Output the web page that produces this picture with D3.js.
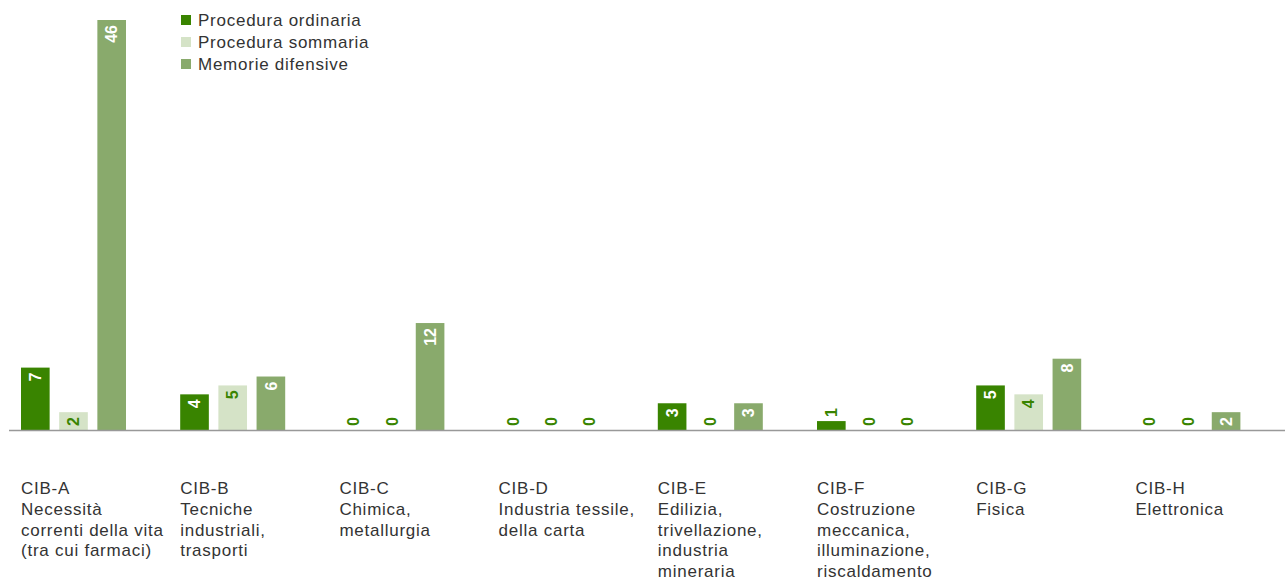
<!DOCTYPE html>
<html>
<head>
<meta charset="utf-8">
<script src="https://cdn.jsdelivr.net/npm/d3@7"></script>
<style>
  body { margin: 0; background: #fff; }
  text { font-family: "Liberation Sans", Arial, sans-serif; }
</style>
</head>
<body>
<div id="chart"></div>
<script>
const categories = ['CIB-A', 'CIB-B', 'CIB-C', 'CIB-D', 'CIB-E', 'CIB-F', 'CIB-G', 'CIB-H'];
const categoryLabels = [
  ['CIB-A', 'Necessità', 'correnti della vita', '(tra cui farmaci)'],
  ['CIB-B', 'Tecniche', 'industriali,', 'trasporti'],
  ['CIB-C', 'Chimica,', 'metallurgia'],
  ['CIB-D', 'Industria tessile,', 'della carta'],
  ['CIB-E', 'Edilizia,', 'trivellazione,', 'industria', 'mineraria'],
  ['CIB-F', 'Costruzione', 'meccanica,', 'illuminazione,', 'riscaldamento'],
  ['CIB-G', 'Fisica'],
  ['CIB-H', 'Elettronica']
];
const seriesNames = ['Procedura ordinaria', 'Procedura sommaria', 'Memorie difensive'];
const ordinaria = [7, 4, 0, 0, 3, 1, 5, 0];
const sommaria = [2, 5, 0, 0, 0, 0, 4, 0];
const memorie = [46, 6, 12, 0, 3, 0, 8, 2];

const colors = ['#398400', '#d5e3c7', '#89aa6c'];
const labelColors = ['#fff', '#398400', '#fff'];

const width = 1285, height = 581;
const baseY = 430;

const svg = d3.select('#chart').append('svg')
    .attr('width', width)
    .attr('height', height);

const x = d3.scaleBand()
    .domain(categories)
    .range([21, 21 + 159.2 * 8])
    .paddingInner(0)
    .paddingOuter(0);

const x1 = d3.scaleBand()
    .domain(seriesNames)
    .range([0, 105])
    .paddingInner(0.25);

const y = d3.scaleLinear()
    .domain([0, 46])
    .range([baseY, 20]);

const data = [];
categories.forEach((c, i) => {
  [ordinaria, sommaria, memorie].forEach((arr, s) => {
    const barH = baseY - y(arr[i]);
    data.push({ cat: c, series: seriesNames[s], s: s, value: arr[i], inside: barH >= 15 });
  });
});

// bars
svg.append('g').selectAll('rect')
    .data(data.filter(d => d.value > 0))
  .join('rect')
    .attr('x', d => x(d.cat) + x1(d.series))
    .attr('y', d => y(d.value))
    .attr('width', x1.bandwidth())
    .attr('height', d => baseY - y(d.value))
    .attr('fill', d => colors[d.s]);

// baseline
svg.append('line')
    .attr('x1', 9).attr('x2', width)
    .attr('y1', baseY + 0.5).attr('y2', baseY + 0.5)
    .attr('stroke', '#999')
    .attr('stroke-width', 1.5);

// value labels, rotated
svg.append('g').selectAll('text')
    .data(data)
  .join('text')
    .attr('transform', d => {
      const cx = x(d.cat) + x1(d.series) + x1.bandwidth() / 2;
      const ty = d.inside ? y(d.value) + 5 : y(d.value) - 4;
      return `translate(${cx},${ty}) rotate(-90)`;
    })
    .attr('text-anchor', d => d.inside ? 'end' : 'start')
    .attr('dy', '0.36em')
    .attr('font-size', 16)
    .attr('font-weight', 'bold')
    .attr('fill', d => d.inside ? labelColors[d.s] : colors[0])
    .text(d => d.value);

// category labels
const catG = svg.append('g').selectAll('text')
    .data(categoryLabels)
  .join('text')
    .attr('x', (d, i) => x(categories[i]))
    .attr('y', 494)
    .attr('font-size', 17)
    .attr('letter-spacing', 0.75)
    .attr('fill', '#333');
catG.selectAll('tspan')
    .data(d => d)
  .join('tspan')
    .attr('x', function() { return d3.select(this.parentNode).attr('x'); })
    .attr('dy', (d, i) => i === 0 ? 0 : 20.8)
    .text(d => d);

// legend
const legend = svg.append('g')
    .attr('transform', 'translate(181,12)');
legend.selectAll('rect')
    .data(seriesNames)
  .join('rect')
    .attr('x', 0)
    .attr('y', (d, i) => i * 22 + 3)
    .attr('width', 10)
    .attr('height', 10)
    .attr('fill', (d, i) => colors[i]);
legend.selectAll('text')
    .data(seriesNames)
  .join('text')
    .attr('x', 17)
    .attr('y', (d, i) => i * 22 + 14)
    .attr('font-size', 17)
    .attr('letter-spacing', 0.75)
    .attr('fill', '#333')
    .text(d => d);
</script>
</body>
</html>
